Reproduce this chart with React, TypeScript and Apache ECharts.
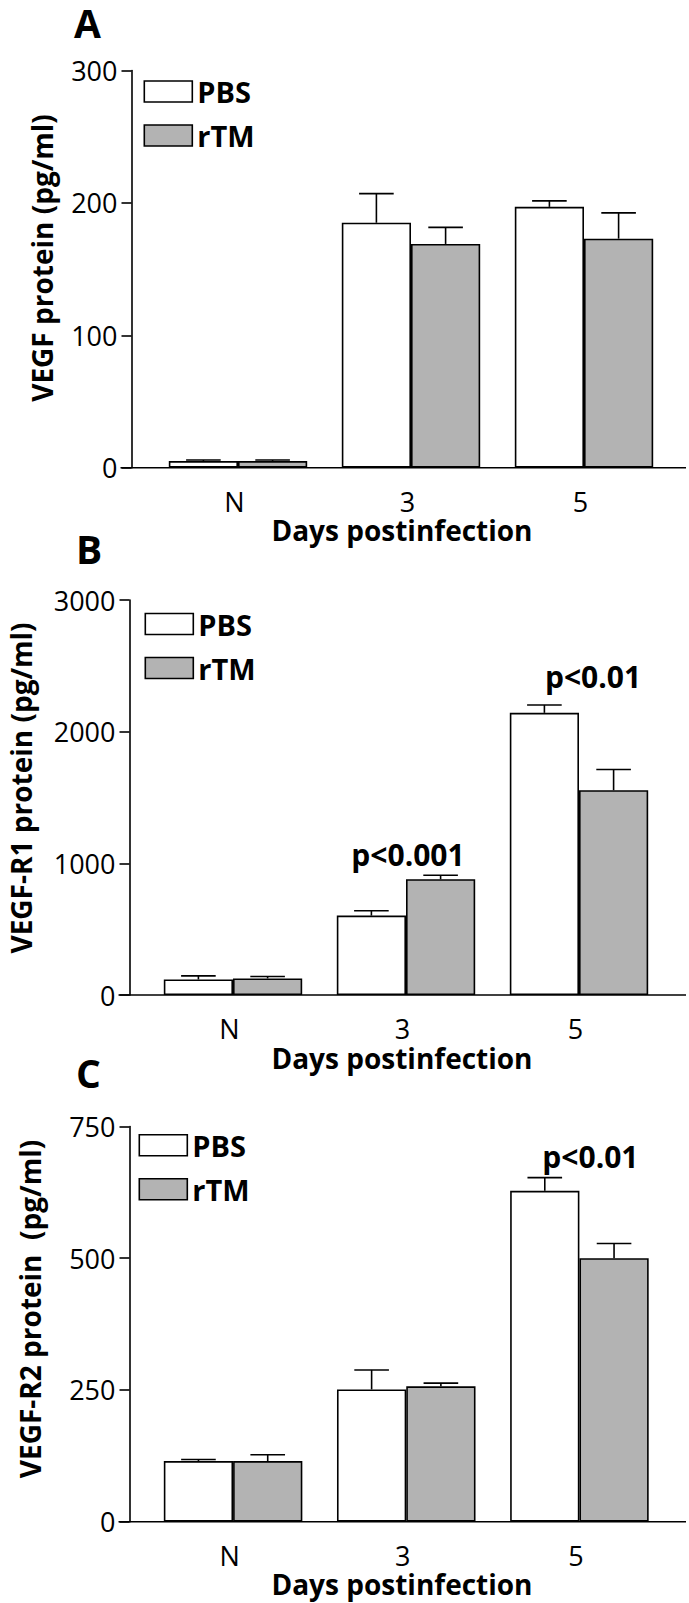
import React, { useEffect, useRef } from "react";
import * as echarts from "echarts";

// ---------------- data ----------------
const categories = ["N", "3", "5"];
const groupNames = ["PBS", "rTM"];

// Panel A: VEGF protein (pg/ml)
const vegfPBS = [5, 185, 197];
const vegfPBSErr = [0.8, 22, 4.5];
const vegfRTM = [5, 169, 173];
const vegfRTMErr = [0.8, 12.5, 19.5];

// Panel B: VEGF-R1 protein (pg/ml)
const r1PBS = [118, 603, 2143];
const r1PBSErr = [27, 37, 60];
const r1RTM = [126, 879, 1555];
const r1RTMErr = [15, 31, 158];

// Panel C: VEGF-R2 protein (pg/ml)
const r2PBS = [115, 251, 628];
const r2PBSErr = [3, 37, 25];
const r2RTM = [115, 257, 500];
const r2RTMErr = [12, 6, 28];

const yMax = [300, 3000, 750];
const yInterval = [100, 1000, 250];

const panelLetters = ["A", "B", "C"];
const yTitles = ["VEGF protein (pg/ml)", "VEGF-R1 protein (pg/ml)", "VEGF-R2 protein  (pg/ml)"];
const xTitle = "Days postinfection";

// significance annotations: panel, category index, y value where text sits
const annPanel = [1, 1, 2];
const annCategory = [1, 2, 2];
const annValue = [1067, 2420, 693];
const annText = ["p<0.001", "p<0.01", "p<0.01"];

// ---------------- layout / style ----------------
const FONT = "'Open Sans', 'Noto Sans', sans-serif";
const INK = "#000";
const GREY = "#b3b3b3";
const LW = 1.6;
const annDx = [2, 14, 11];

const layout = [
  { gridLeft: 151.5, gridRight: 18.5, gridTop: 70.5, gridHeight: 397.2, axisX: 131.5, legendLeft: 143.5, legendTop: 77, letterX: 74, letterY: 22, yTitleX: 42, yTitleY: 258, xTitleY: 530 },
  { gridLeft: 146.5, gridRight: 23.5, gridTop: 600, gridHeight: 395, axisX: 129.5, legendLeft: 144.5, legendTop: 609.5, letterX: 76, letterY: 548.3, yTitleX: 21, yTitleY: 788, xTitleY: 1057.5 },
  { gridLeft: 146.5, gridRight: 23, gridTop: 1126.5, gridHeight: 395.2, axisX: 129.5, legendLeft: 138.5, legendTop: 1130.7, letterX: 76, letterY: 1072.5, yTitleX: 30, yTitleY: 1309, xTitleY: 1584 },
];
const xTitleX = 402;

const panelValues = [
  [vegfPBS, vegfRTM],
  [r1PBS, r1RTM],
  [r2PBS, r2RTM],
];
const panelErrors = [
  [vegfPBSErr, vegfRTMErr],
  [r1PBSErr, r1RTMErr],
  [r2PBSErr, r2RTMErr],
];

function buildOption() {
  const grid: any[] = [];
  const xAxis: any[] = [];
  const yAxis: any[] = [];
  const series: any[] = [];
  const legend: any[] = [];
  const graphic: any[] = [];

  layout.forEach((L, p) => {
    grid.push({ left: L.gridLeft, right: L.gridRight, top: L.gridTop, height: L.gridHeight, containLabel: false });
    xAxis.push({
      gridIndex: p,
      type: "category",
      data: categories,
      axisLine: { show: false },
      axisTick: { show: false },
      axisLabel: { margin: 22.5, fontSize: 27, lineHeight: 22, color: INK, fontFamily: FONT, padding: [0, 7, 0, 0] },
      splitLine: { show: false },
    });
    yAxis.push({
      gridIndex: p,
      type: "value",
      min: 0,
      max: yMax[p],
      interval: yInterval[p],
      offset: L.gridLeft - L.axisX,
      axisLine: { show: true, lineStyle: { color: INK, width: LW } },
      axisTick: { show: true, length: 10, lineStyle: { color: INK, width: LW } },
      axisLabel: { margin: 14, fontSize: 27, lineHeight: 22, color: INK, fontFamily: FONT, formatter: (v: number) => String(v) },
      splitLine: { show: false },
    });

    groupNames.forEach((name, s) => {
      series.push({
        type: "bar",
        name,
        xAxisIndex: p,
        yAxisIndex: p,
        data: panelValues[p][s],
        barGap: "0%",
        barCategoryGap: "20%",
        itemStyle: { color: s === 0 ? "#ffffff" : GREY, borderColor: INK, borderWidth: LW },
        z: 2,
      });
    });

    const errData: any[] = [];
    groupNames.forEach((_, s) => {
      categories.forEach((_, c) => {
        errData.push([c, panelValues[p][s][c], panelErrors[p][s][c], s]);
      });
    });
    series.push({
      type: "custom",
      name: "err" + p,
      xAxisIndex: p,
      yAxisIndex: p,
      data: errData,
      encode: { x: 0, y: 1 },
      z: 3,
      silent: true,
      renderItem: (params: any, api: any) => {
        const ci = api.value(0);
        const v = api.value(1);
        const e = api.value(2);
        const side = api.value(3);
        const band = api.size([1, 0])[0];
        const x = api.coord([ci, 0])[0] + (side === 0 ? -1 : 1) * band * 0.2;
        const y0 = api.coord([ci, v])[1];
        const y1 = api.coord([ci, v + e])[1];
        const half = band * 0.1;
        const st = { stroke: INK, lineWidth: LW };
        return {
          type: "group",
          children: [
            { type: "line", shape: { x1: x, y1: y0, x2: x, y2: y1 }, style: st },
            { type: "line", shape: { x1: x - half, y1: y1, x2: x + half, y2: y1 }, style: st },
          ],
        };
      },
    });

    const annData: any[] = [];
    annPanel.forEach((ap, k) => {
      if (ap === p) annData.push([annCategory[k], annValue[k], k]);
    });
    if (annData.length) {
      series.push({
        type: "custom",
        name: "ann" + p,
        xAxisIndex: p,
        yAxisIndex: p,
        data: annData,
        encode: { x: 0, y: 1 },
        z: 4,
        silent: true,
        renderItem: (params: any, api: any) => {
          const k = api.value(2);
          const pt = api.coord([api.value(0), api.value(1)]);
          return {
            type: "text",
            x: pt[0] + annDx[k],
            y: pt[1],
            style: {
              text: annText[k],
              fill: INK,
              font: `bold 30px ${FONT}`,
              align: "center",
              verticalAlign: "middle",
            },
          };
        },
      });
    }

    legend.push({
      orient: "vertical",
      left: L.legendLeft,
      top: L.legendTop,
      padding: 0,
      itemWidth: 48,
      itemHeight: 21,
      itemGap: 15,
      selectedMode: false,
      textStyle: { fontFamily: FONT, fontWeight: "bold", fontSize: 29, color: INK, lineHeight: 21 },
      data: [
        { name: "PBS", icon: "rect", itemStyle: { color: "#ffffff", borderColor: INK, borderWidth: LW } },
        { name: "rTM", icon: "rect", itemStyle: { color: GREY, borderColor: INK, borderWidth: LW } },
      ],
    });

    // extended x-axis baseline
    const baseY = L.gridTop + L.gridHeight;
    graphic.push({
      type: "line",
      shape: { x1: L.axisX - 11, y1: baseY, x2: 686, y2: baseY },
      style: { stroke: INK, lineWidth: LW },
      z: 10,
    });
    graphic.push({
      type: "text",
      x: L.letterX,
      y: L.letterY,
      style: { text: panelLetters[p], fill: INK, font: `bold 39px ${FONT}`, lineHeight: 30, align: "left", verticalAlign: "middle" },
    });
    graphic.push({
      type: "text",
      x: L.yTitleX,
      y: L.yTitleY,
      rotation: Math.PI / 2,
      style: { text: yTitles[p], fill: INK, font: `bold 28px ${FONT}`, lineHeight: 26, align: "center", verticalAlign: "middle" },
    });
    graphic.push({
      type: "text",
      x: xTitleX,
      y: L.xTitleY,
      style: { text: xTitle, fill: INK, font: `bold 28px ${FONT}`, lineHeight: 24, align: "center", verticalAlign: "middle" },
    });
  });

  return {
    animation: false,
    backgroundColor: "#ffffff",
    grid,
    xAxis,
    yAxis,
    series,
    legend,
    graphic,
  };
}

export default function App() {
  const ref = useRef<HTMLDivElement>(null);
  useEffect(() => {
    if (!ref.current) return;
    const chart = echarts.init(ref.current, undefined, { renderer: "svg" });
    chart.setOption(buildOption());
    return () => chart.dispose();
  }, []);
  return (
    <div
      ref={ref}
      style={{ position: "absolute", left: 0, top: 0, width: 689, height: 1603, background: "#fff" }}
    />
  );
}
